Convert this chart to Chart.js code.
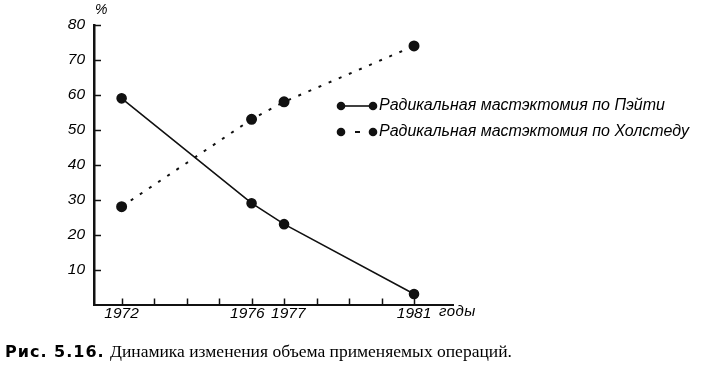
<!DOCTYPE html>
<html lang="ru">
<head>
<meta charset="utf-8">
<script src="https://cdn.jsdelivr.net/npm/chart.js@4/dist/chart.umd.min.js"></script>
<style>
  html, body { margin: 0; padding: 0; background: #fff; }
  #wrap { position: relative; width: 703px; height: 367px; overflow: hidden; }
  #chart { position: absolute; left: 0; top: 0; }
  .lbl { position: absolute; color: #000; white-space: nowrap; font-family: 'Liberation Sans', Arial, sans-serif; font-style: italic; }
  #pct { left: 95px; top: 1px; font-size: 14px; }
  #years { left: 439px; top: 302px; font-size: 15px; letter-spacing: 0.5px; }
  .legend-item { position: absolute; left: 379px; font-size: 16px; }
  #caption { position: absolute; left: 5px; top: 341px; font-family: 'Liberation Serif', 'Times New Roman', serif; font-size: 17.5px; color: #000; white-space: nowrap; }
  #caption b { font-family: 'DejaVu Sans', sans-serif; font-size: 16px; letter-spacing: 1px; margin-right: 1px; }
</style>
</head>
<body>
<div id="wrap">
  <canvas id="chart" width="703" height="367"></canvas>
  <div class="lbl" id="pct">%</div>
  <div class="lbl" id="years">годы</div>
  <div id="legend"></div>
  <div id="caption"><b>Рис. 5.16.</b> Динамика изменения объема применяемых операций.</div>
</div>
<script>
// ДАННЫЕ
const years = [1972, 1976, 1977, 1981];
const pateySeries = [59, 29, 23, 3];
const halstedSeries = [28, 53, 58, 74];
const seriesLabels = ['Радикальная мастэктомия по Пэйти', 'Радикальная мастэктомия по Холстеду'];
const yearTickMarks = [1972, 1973, 1974, 1975, 1976, 1977, 1978, 1979, 1980, 1981];
const yearTickLabels = [1972, 1976, 1977, 1981];
const pctTickLabels = [10, 20, 30, 40, 50, 60, 70, 80];

const ink = '#111';
const tickFont = { family: "'Liberation Sans', Arial, sans-serif", style: 'italic', size: 15.5 };

// tacche interne sugli assi + marcatori della legenda
const axisTicksPlugin = {
  id: 'axisTicks',
  afterDraw(chart) {
    const { ctx, chartArea, scales } = chart;
    ctx.save();
    ctx.strokeStyle = ink;
    ctx.lineWidth = 1.5;
    yearTickMarks.forEach(v => {
      const x = Math.round(scales.x.getPixelForValue(v)) + 0.5;
      ctx.beginPath();
      ctx.moveTo(x, chartArea.bottom);
      ctx.lineTo(x, chartArea.bottom - 6);
      ctx.stroke();
    });
    pctTickLabels.forEach(v => {
      const y = Math.round(scales.y.getPixelForValue(v)) + 0.5;
      ctx.beginPath();
      ctx.moveTo(chartArea.left, y);
      ctx.lineTo(chartArea.left + 7, y);
      ctx.stroke();
    });

    // legenda
    const rows = [106, 132];
    chart.data.datasets.forEach((ds, i) => {
      const y = rows[i];
      ctx.strokeStyle = ds.borderColor;
      ctx.lineWidth = ds.borderWidth;
      ctx.beginPath();
      if (ds.borderDash) {
        ctx.moveTo(355, y);
        ctx.lineTo(360, y);
      } else {
        ctx.moveTo(341, y);
        ctx.lineTo(373, y);
      }
      ctx.stroke();
      ctx.fillStyle = ds.pointBackgroundColor;
      [341, 373].forEach(x => {
        ctx.beginPath();
        ctx.arc(x, y, 4.3, 0, Math.PI * 2);
        ctx.fill();
      });
    });
    ctx.restore();
  }
};

// etichette 1976/1977 leggermente separate come nell'originale
const yearLabel = v => (v === 1976 ? '1976  ' : v === 1977 ? '  1977' : String(v));

const chart = new Chart(document.getElementById('chart'), {
  type: 'line',
  data: {
    datasets: [
      {
        label: seriesLabels[0],
        data: years.map((x, i) => ({ x, y: pateySeries[i] })),
        borderColor: ink, borderWidth: 1.6,
        pointBackgroundColor: ink, pointBorderColor: ink, pointRadius: 4.5,
        tension: 0
      },
      {
        label: seriesLabels[1],
        data: years.map((x, i) => ({ x, y: halstedSeries[i] })),
        borderColor: ink, borderWidth: 2, borderDash: [3, 8],
        pointBackgroundColor: ink, pointBorderColor: ink, pointRadius: 4.5,
        tension: 0
      }
    ]
  },
  options: {
    responsive: false,
    animation: false,
    layout: { padding: { top: 25, right: 250, bottom: 0, left: 0 } },
    plugins: { legend: { display: false }, tooltip: { enabled: false } },
    scales: {
      x: {
        type: 'linear', min: 1971.15, max: 1982.2,
        afterBuildTicks: s => { s.ticks = yearTickLabels.map(v => ({ value: v })); },
        afterFit: s => { s.height = 62.5; },
        grid: { display: false, drawTicks: false },
        border: { display: true, color: ink, width: 2 },
        ticks: { color: '#000', font: tickFont, padding: 0, maxRotation: 0, autoSkip: false, callback: yearLabel }
      },
      y: {
        min: 0, max: 80,
        afterBuildTicks: s => { s.ticks = pctTickLabels.map(v => ({ value: v })); },
        afterFit: s => { s.width = 94; },
        grid: { display: false, drawTicks: false },
        border: { display: true, color: ink, width: 2.5 },
        ticks: { color: '#000', font: tickFont, padding: 9, callback: v => String(v) }
      }
    }
  },
  plugins: [axisTicksPlugin]
});

// testo della legenda
const legendBox = document.getElementById('legend');
legendBox.innerHTML = seriesLabels.map((t, i) =>
  `<div class="lbl legend-item" style="top:${[96, 122][i]}px">${t}</div>`).join('');
</script>
</body>
</html>
